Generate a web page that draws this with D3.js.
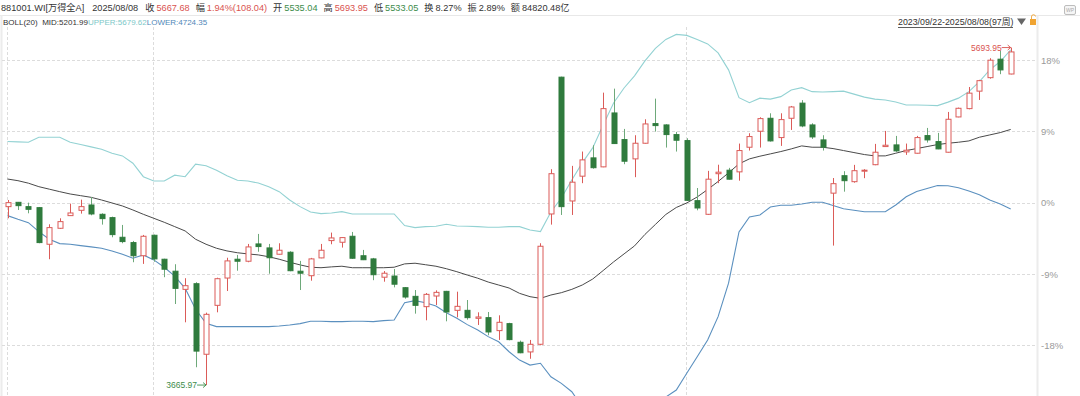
<!DOCTYPE html>
<html lang="zh">
<head>
<meta charset="UTF-8" />
<title>881001.WI 万得全A BOLL</title>
<script src="https://d3js.org/d3.v7.min.js"></script>
<style>
  body { margin: 0; background: #fff; }
  svg { display: block; font-family: "Liberation Sans", Arial, "Noto Sans CJK SC", sans-serif; }
</style>
</head>
<body>
<div id="chart"></div>
<script>
// weekly candles 2023/09/22 - 2025/08/08 (97 weeks)
const opens = [4738, 4764, 4738, 4732, 4512, 4608, 4684, 4716, 4748, 4692,
  4672, 4554, 4522, 4443, 4566, 4422, 4350, 4241, 4275, 3851,
  4145, 4309, 4422, 4410, 4514, 4490, 4452, 4464, 4350, 4323,
  4430, 4534, 4524, 4560, 4443, 4424, 4314, 4321, 4251, 4199,
  4137, 4201, 4229, 4115, 4115, 4067, 4071, 3993, 4035, 3923,
  3865, 3911, 4694, 5516, 4772, 4921, 5031, 4977, 5301, 5141,
  5025, 5119, 5237, 5229, 5171, 5135, 4774, 4692, 4936, 4957,
  4947, 5095, 5191, 5269, 5153, 5269, 5360, 5229, 5139, 4819,
  4924, 4888, 4951, 4990, 5099, 5109, 5067, 5059, 5165, 5129,
  5065, 5277, 5327, 5432, 5513, 5624, 5535.04]
const closes = [4762, 4744, 4722, 4522, 4612, 4648, 4700, 4738, 4694, 4666,
  4570, 4528, 4443, 4560, 4424, 4362, 4247, 4263, 3870, 4091,
  4305, 4412, 4410, 4496, 4498, 4431, 4476, 4353, 4338, 4424,
  4476, 4550, 4552, 4428, 4419, 4329, 4338, 4272, 4195, 4145,
  4211, 4223, 4105, 4139, 4071, 4075, 3985, 4043, 3939, 3860,
  3911, 4500, 4936, 4738, 4885, 5019, 4972, 5327, 5117, 5011,
  5119, 5235, 5225, 5171, 5137, 4776, 4730, 4903, 4945, 4903,
  5075, 5159, 5267, 5133, 5261, 5337, 5223, 5157, 5095, 4876,
  4894, 4954, 4957, 5065, 5107, 5073, 5077, 5153, 5139, 5085,
  5263, 5329, 5420, 5495, 5618, 5559.64, 5667.68]
const highs = [4778, 4766, 4762, 4736, 4632, 4668, 4756, 4780, 4796, 4698,
  4678, 4628, 4532, 4568, 4570, 4425, 4392, 4308, 4284, 4101,
  4311, 4431, 4448, 4514, 4574, 4514, 4518, 4470, 4412, 4430,
  4514, 4582, 4554, 4586, 4478, 4430, 4351, 4363, 4255, 4237,
  4219, 4235, 4232, 4227, 4177, 4103, 4105, 4085, 4040, 3933,
  3937, 4518, 4963, 5519, 4983, 5069, 5107, 5423, 5447, 5205,
  5167, 5263, 5387, 5233, 5187, 5149, 4850, 4953, 4990, 4971,
  5117, 5179, 5275, 5299, 5299, 5343, 5378, 5239, 5167, 4910,
  4951, 4989, 4963, 5115, 5193, 5163, 5117, 5163, 5211, 5181,
  5307, 5333, 5457, 5500, 5630, 5676, 5693.95]
const lows = [4668, 4718, 4698, 4518, 4422, 4604, 4682, 4696, 4686, 4630,
  4554, 4518, 4404, 4394, 4407, 4314, 4153, 4043, 3773, 3665.97,
  4103, 4231, 4353, 4404, 4467, 4335, 4450, 4350, 4237, 4293,
  4428, 4512, 4492, 4424, 4417, 4296, 4287, 4253, 4185, 4095,
  4055, 4147, 4049, 4073, 4059, 4027, 3965, 3937, 3935, 3857,
  3824, 3905, 4630, 4688, 4688, 4879, 4966, 4975, 5115, 4993,
  4915, 5117, 5189, 5093, 5069, 4772, 4716, 4688, 4879, 4901,
  4894, 5075, 5093, 5129, 5103, 5199, 5215, 5145, 5075, 4504,
  4828, 4882, 4909, 4987, 5097, 5067, 5049, 5057, 5123, 5083,
  5063, 5275, 5323, 5379, 5507, 5534, 5533.05]

// BOLL(20)
const upper = [5129, 5127, 5125, 5155, 5155, 5155, 5125, 5111, 5097, 5083,
  5059, 5043, 4999, 4918, 4892, 4892, 4927, 4918, 4993, 4984,
  4957, 4924, 4897, 4892, 4880, 4858, 4828, 4778, 4738, 4706,
  4696, 4700, 4708, 4694, 4694, 4694, 4694, 4694, 4624, 4612,
  4618, 4620, 4632, 4622, 4620, 4618, 4614, 4614, 4618, 4618,
  4598, 4588, 4706, 4790, 4898, 5001, 5091, 5229, 5361, 5451,
  5524, 5614, 5689, 5743, 5773, 5767, 5743, 5716, 5662, 5560,
  5393, 5363, 5390, 5384, 5399, 5439, 5453, 5429, 5427, 5429,
  5432, 5414, 5396, 5384, 5379, 5367, 5349, 5349, 5347, 5345,
  5366, 5390, 5429, 5489, 5560, 5610, 5679.62]
const mid = [4904, 4894, 4879, 4858, 4843, 4828, 4814, 4804, 4794, 4778,
  4760, 4742, 4718, 4692, 4668, 4644, 4618, 4592, 4542, 4512,
  4488, 4472, 4461, 4454, 4448, 4437, 4422, 4404, 4388, 4374,
  4371, 4376, 4380, 4371, 4371, 4371, 4371, 4374, 4394, 4398,
  4389, 4380, 4365, 4347, 4327, 4308, 4285, 4267, 4249, 4217,
  4197, 4187, 4207, 4221, 4241, 4267, 4303, 4354, 4406, 4454,
  4502, 4571, 4631, 4691, 4733, 4760, 4796, 4841, 4889, 4941,
  4995, 5025, 5041, 5055, 5069, 5085, 5103, 5095, 5095, 5087,
  5075, 5063, 5051, 5043, 5043, 5059, 5075, 5087, 5099, 5111,
  5119, 5125, 5133, 5155, 5169, 5183, 5201.99]
const lower = [4684, 4662, 4642, 4588, 4542, 4516, 4512, 4504, 4496, 4488,
  4472, 4452, 4428, 4448, 4418, 4374, 4321, 4247, 4121, 4037,
  4017, 4017, 4017, 4017, 4017, 4017, 4021, 4027, 4035, 4049,
  4049, 4047, 4047, 4049, 4049, 4047, 4053, 4057, 4161, 4173,
  4161, 4141, 4101, 4067, 4029, 3997, 3957, 3926, 3866, 3816,
  3786, 3797, 3716, 3676, 3626, 3534, 3516, 3480, 3450, 3456,
  3480, 3528, 3564, 3594, 3636, 3737, 3836, 3937, 4077, 4278,
  4586, 4676, 4688, 4736, 4746, 4746, 4754, 4764, 4764, 4745,
  4725, 4716, 4707, 4707, 4707, 4748, 4797, 4829, 4847, 4865,
  4864, 4852, 4832, 4810, 4778, 4754, 4724.35]

const basePrice = 4762
const pctTicks = [-18, -9, 0, 9, 18]
const yearStarts = [0, 14, 65]

const width = 1080
const height = 396
const red = '#db5b58'
const green = '#2f7b3d'
const greenWick = '#6ea97a'

const idx = d3.range(opens.length)
const candles = idx.map(i => ({ i, o: opens[i], c: closes[i], h: highs[i], l: lows[i] }))

const svg = d3.select('#chart').append('svg')
  .attr('width', width)
  .attr('height', height)

const x = d3.scalePoint().domain(idx).range([7.5, 1010.7])
const y = d3.scaleLinear()
  .domain([basePrice * 0.82, basePrice * 1.18])
  .range([345.3, 60])

// frame
svg.append('line').attr('x1', 0).attr('x2', width).attr('y1', 15.5).attr('y2', 15.5)
  .attr('stroke', '#e8e8e8')
svg.append('line').attr('x1', 1.5).attr('x2', 1.5).attr('y1', 15).attr('y2', height)
  .attr('stroke', '#ececec').attr('stroke-width', 2)
svg.append('line').attr('x1', 1037.5).attr('x2', 1037.5).attr('y1', 15).attr('y2', height)
  .attr('stroke', '#ececec').attr('stroke-width', 2)

// grid
const tickPrices = pctTicks.map(t => basePrice * (1 + t / 100))
svg.append('g').selectAll('line').data(tickPrices).join('line')
  .attr('x1', 2).attr('x2', 1037)
  .attr('y1', d => Math.round(y(d)) + 0.5).attr('y2', d => Math.round(y(d)) + 0.5)
  .attr('stroke', '#dcdcdc').attr('stroke-dasharray', '3,2')
svg.append('g').selectAll('line').data(yearStarts).join('line')
  .attr('x1', d => Math.round(x(d)) - 0.5).attr('x2', d => Math.round(x(d)) - 0.5)
  .attr('y1', 27).attr('y2', height)
  .attr('stroke', '#dcdcdc').attr('stroke-dasharray', '3,2')

// y axis (percent)
const yAxis = d3.axisRight(y)
  .tickValues(tickPrices)
  .tickFormat((d, i) => pctTicks[i] + '%')
  .tickSize(0)
  .tickPadding(3)
const ag = svg.append('g').attr('transform', 'translate(1038,0)').call(yAxis)
ag.select('.domain').remove()
ag.selectAll('text').attr('fill', '#9a9a9a').attr('font-size', 9.5)
  .attr('font-family', '"Liberation Sans", Arial, sans-serif')

svg.append('defs').append('clipPath').attr('id', 'plot')
  .append('rect').attr('x', 2).attr('y', 16).attr('width', 1035).attr('height', height - 16)
const plot = svg.append('g').attr('clip-path', 'url(#plot)')

// bands
const line = d3.line().x((d, i) => x(i)).y(d => y(d))
plot.append('path').datum(upper).attr('d', line)
  .attr('fill', 'none').attr('stroke', '#93d2d3').attr('stroke-width', 1.1)
plot.append('path').datum(lower).attr('d', line)
  .attr('fill', 'none').attr('stroke', '#5b90bf').attr('stroke-width', 1.1)
plot.append('path').datum(mid).attr('d', line)
  .attr('fill', 'none').attr('stroke', '#4a4a4a').attr('stroke-width', 1)

// candles
const bw = 6
const cg = plot.append('g').selectAll('g').data(candles).join('g')
cg.append('line')
  .attr('x1', d => Math.round(x(d.i)) + 0.5).attr('x2', d => Math.round(x(d.i)) + 0.5)
  .attr('y1', d => y(d.h)).attr('y2', d => y(d.l))
  .attr('stroke', d => d.c >= d.o ? red : greenWick)
cg.append('rect')
  .attr('x', d => Math.round(x(d.i)) - bw / 2 + 1)
  .attr('width', bw - 1)
  .attr('y', d => y(Math.max(d.o, d.c)))
  .attr('height', d => Math.max(1, Math.abs(y(d.o) - y(d.c))))
  .attr('fill', d => d.c >= d.o ? '#fff' : green)
  .attr('stroke', d => d.c >= d.o ? red : green)
  .attr('stroke-width', 1)

// high / low marks
const hiI = d3.maxIndex(highs)
const loI = d3.minIndex(lows)
const marks = [
  { i: hiI, v: highs[hiI], color: '#d9534f' },
  { i: loI, v: lows[loI], color: '#3d8c4b' }
]
const mg = svg.append('g').selectAll('g').data(marks).join('g')
mg.append('text')
  .attr('x', d => x(d.i) - 9).attr('y', d => y(d.v) + 3)
  .attr('text-anchor', 'end').attr('font-size', 8.5)
  .attr('fill', d => d.color)
  .text(d => d.v.toFixed(2))
mg.append('path')
  .attr('d', d => {
    const xx = x(d.i), yy = y(d.v)
    return `M${xx - 9},${yy}H${xx}M${xx - 3},${yy - 2.5}L${xx},${yy}L${xx - 3},${yy + 2.5}`
  })
  .attr('fill', 'none').attr('stroke', d => d.color).attr('stroke-width', 0.9)

// header row 1 (flowing text, gap before each piece)
const last = opens.length - 1
const prevClose = closes[last - 1]
const chg = closes[last] - prevClose
const upC = '#d9534f', dnC = '#3d8c4b', txt = '#333'
const header = [
  { g: 0, t: '881001.WI[万得全A]', c: txt },
  { g: 8, t: '2025/08/08', c: txt },
  { g: 7, t: '收', c: txt },
  { g: 2, t: closes[last].toFixed(2), c: upC },
  { g: 6, t: '幅', c: txt },
  { g: 2, t: (chg / prevClose * 100).toFixed(2) + '%(' + chg.toFixed(2) + ')', c: upC },
  { g: 6, t: '开', c: txt },
  { g: 2, t: opens[last].toFixed(2), c: dnC },
  { g: 6, t: '高', c: txt },
  { g: 2, t: highs[last].toFixed(2), c: upC },
  { g: 6, t: '低', c: txt },
  { g: 2, t: lows[last].toFixed(2), c: dnC },
  { g: 6, t: '换', c: txt },
  { g: 2, t: '8.27%', c: txt },
  { g: 6, t: '振', c: txt },
  { g: 2, t: '2.89%', c: txt },
  { g: 6, t: '额', c: txt },
  { g: 2, t: '84820.48亿', c: txt }
]
svg.append('text').attr('x', 1).attr('y', 11).attr('font-size', 9.2)
  .selectAll('tspan').data(header).join('tspan')
  .attr('dx', d => d.g)
  .attr('fill', d => d.c)
  .text(d => d.t)

// header row 2 (indicator)
const boll = [
  { g: 0, t: 'BOLL(20)', c: txt },
  { g: 4.5, t: 'MID:' + mid[last].toFixed(2), c: txt },
  { g: 0, t: 'UPPER:' + upper[last].toFixed(2), c: '#7cc8c8' },
  { g: 0, t: 'LOWER:' + lower[last].toFixed(2), c: '#4f87b8' }
]
svg.append('text').attr('x', 3).attr('y', 24.5).attr('font-size', 8)
  .selectAll('tspan').data(boll).join('tspan')
  .attr('dx', d => d.g)
  .attr('fill', d => d.c)
  .text(d => d.t)

// range selector
svg.append('text').attr('x', 898).attr('y', 24.5)
  .attr('font-size', 8.8).attr('fill', '#333')
  .text('2023/09/22-2025/08/08(97周)')
svg.append('line').attr('x1', 898).attr('x2', 1013).attr('y1', 27.5).attr('y2', 27.5)
  .attr('stroke', '#333').attr('stroke-width', 0.8)
svg.append('path').attr('d', 'M1017,18.5H1026L1021.5,25Z').attr('fill', '#666')
svg.append('rect').attr('x', 1030).attr('y', 19).attr('width', 6).attr('height', 6)
  .attr('fill', '#f0a432')
svg.append('path').attr('d', 'M1031.5,19V17A2,2 0 0 1 1035.5,16.5')
  .attr('fill', 'none').attr('stroke', '#f0a432').attr('stroke-width', 0.9)

// top-right icon
svg.append('rect').attr('x', 1064.5).attr('y', 5.5).attr('width', 11).attr('height', 9).attr('rx', 1.5)
  .attr('fill', '#f5f5f5').attr('stroke', '#bdbdbd')
svg.append('text').attr('x', 1070).attr('y', 12).attr('text-anchor', 'middle')
  .attr('font-size', 5).attr('fill', '#aaa').text('WP')
</script>
</body>
</html>
